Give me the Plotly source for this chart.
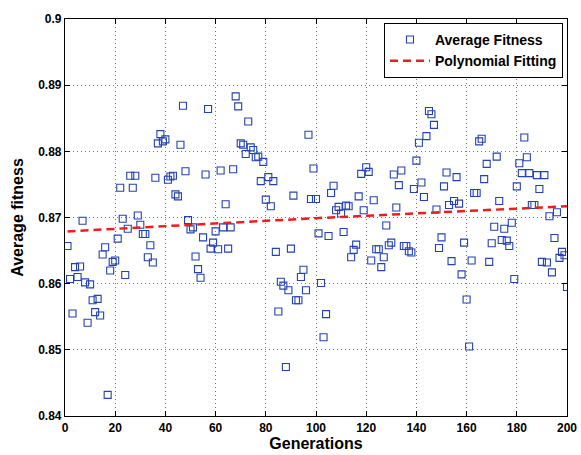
import plotly.graph_objects as go

generations = list(range(1, 201))
fitness = [
    0.8657, 0.8607, 0.8555, 0.8625, 0.8610, 0.8626, 0.8695, 0.8602, 0.8541, 0.8599,
    0.8575, 0.8557, 0.8577, 0.8552, 0.8644, 0.8655, 0.8432, 0.8620, 0.8633, 0.8635,
    0.8668, 0.8745, 0.8698, 0.8613, 0.8683, 0.8763, 0.8745, 0.8763, 0.8703, 0.8689,
    0.8675, 0.8675, 0.8640, 0.8658, 0.8632, 0.8760, 0.8812, 0.8826, 0.8815, 0.8818,
    0.8757, 0.8762, 0.8763, 0.8735, 0.8732, 0.8810, 0.8869, 0.8770, 0.8696, 0.8682,
    0.8685, 0.8641, 0.8622, 0.8609, 0.8670, 0.8765, 0.8864, 0.8653, 0.8662, 0.8679,
    0.8652, 0.8771, 0.8685, 0.8720, 0.8653, 0.8685, 0.8773, 0.8883, 0.8868, 0.8812,
    0.8810, 0.8796, 0.8845, 0.8806, 0.8802, 0.8791, 0.8792, 0.8755, 0.8784, 0.8727,
    0.8761, 0.8717, 0.8755, 0.8648, 0.8558, 0.8603, 0.8597, 0.8474, 0.8590, 0.8653,
    0.8733, 0.8575, 0.8575, 0.8610, 0.8621, 0.8590, 0.8825, 0.8728, 0.8774, 0.8728,
    0.8676, 0.8601, 0.8519, 0.8554, 0.8672, 0.8737, 0.8748, 0.8711, 0.8716, 0.8706,
    0.8678, 0.8718, 0.8717, 0.8640, 0.8651, 0.8659, 0.8732, 0.8766, 0.8711, 0.8776,
    0.8769, 0.8635, 0.8726, 0.8652, 0.8652, 0.8625, 0.8640, 0.8688, 0.8658, 0.8662,
    0.8765, 0.8715, 0.8749, 0.8771, 0.8657, 0.8657, 0.8649, 0.8647, 0.8743, 0.8786,
    0.8813, 0.8753, 0.8731, 0.8823, 0.8861, 0.8856, 0.8840, 0.8712, 0.8654, 0.8670,
    0.8747, 0.8768, 0.8719, 0.8634, 0.8725, 0.8761, 0.8721, 0.8614, 0.8662, 0.8576,
    0.8505, 0.8635, 0.8737, 0.8737, 0.8815, 0.8819, 0.8758, 0.8781, 0.8633, 0.8661,
    0.8686, 0.8792, 0.8725, 0.8666, 0.8683, 0.8665, 0.8657, 0.8692, 0.8607, 0.8747,
    0.8782, 0.8767, 0.8821, 0.8791, 0.8767, 0.8719, 0.8719, 0.8764, 0.8743, 0.8633,
    0.8764, 0.8632, 0.8702, 0.8617, 0.8669, 0.8708, 0.8639, 0.8648, 0.8643, 0.8595,
]

fit_x = [1, 50, 100, 150, 200]
fit_y = [0.8679, 0.8689, 0.8699, 0.8708, 0.8717]

x_ticks = list(range(0, 201, 20))
y_ticks = [0.84, 0.85, 0.86, 0.87, 0.88, 0.89, 0.9]
y_tick_labels = ["0.84", "0.85", "0.86", "0.87", "0.88", "0.89", "0.9"]

FONT = "Liberation Sans, Arial, sans-serif"

fig = go.Figure()
fig.add_trace(go.Scatter(
    x=generations, y=fitness, mode="markers", name="Average Fitness",
    marker=dict(symbol="square-open", size=7, color="#2343b0", line=dict(width=1.1, color="#2343b0")),
))
fig.add_trace(go.Scatter(
    x=fit_x, y=fit_y, mode="lines", name="Polynomial Fitting",
    line=dict(color="#ee1c1c", width=2.5, dash="8px,5px"),
))

axis_common = dict(
    showline=True, linecolor="black", linewidth=1.2, mirror="allticks",
    ticks="inside", ticklen=5, tickcolor="black", tickwidth=1,
    showgrid=True, gridcolor="#777777", gridwidth=1, griddash="1px,3px",
    zeroline=False, automargin=False,
    tickfont=dict(family=FONT, size=12, color="black", weight="bold"),
)

fig.update_xaxes(
    range=[0, 200], tickvals=x_ticks,
    title=dict(text="Generations", font=dict(family=FONT, size=16, color="black", weight="bold"), standoff=4),
    **axis_common,
)
fig.update_yaxes(
    range=[0.84, 0.9], tickvals=y_ticks, ticktext=y_tick_labels,
    title=dict(text="Average fitness", font=dict(family=FONT, size=16, color="black", weight="bold"), standoff=10),
    **axis_common,
)

fig.update_layout(
    width=581, height=455,
    margin=dict(l=65, r=14, t=19, b=39),
    paper_bgcolor="white", plot_bgcolor="white",
    showlegend=True,
    legend=dict(
        x=0.992, y=0.99, xanchor="right", yanchor="top",
        bgcolor="white", bordercolor="black", borderwidth=1,
        font=dict(family=FONT, size=14, color="black", weight="bold"),
        tracegroupgap=0, itemwidth=40,
    ),
)

fig.write_html("out.html")
